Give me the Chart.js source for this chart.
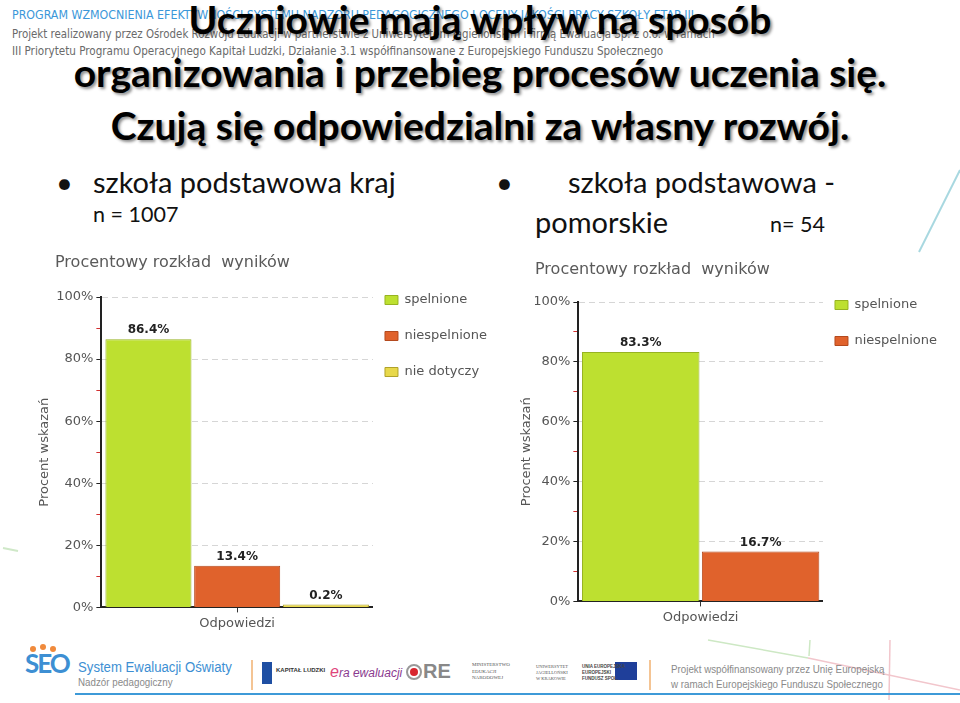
<!DOCTYPE html>
<html lang="pl">
<head>
<meta charset="UTF-8">
<title>Uczniowie mają wpływ na sposób organizowania procesów uczenia się</title>
<script src="https://cdn.jsdelivr.net/npm/chart.js"></script>
<style>
  html, body { margin: 0; padding: 0; }
  body { width: 960px; height: 703px; position: relative; overflow: hidden; background: #fff; font-family: Lato, 'Open Sans', sans-serif; }
  .abs { position: absolute; white-space: nowrap; }
  .hdr { font-family: 'Liberation Sans Narrow', 'DejaVu Sans Condensed', sans-serif; left: 12px; line-height: 1; }
  .hdr1 { top: 9px; font-size: 12.3px; color: #3b97d9; }
  .hdr2 { top: 29px; font-size: 11.4px; color: #6a6a6a; }
  .hdr3 { top: 46px; font-size: 11.6px; color: #6a6a6a; }
  .title { left: 0; top: -7px; width: 960px; text-align: center; font: bold 39px/53px Lato, sans-serif; color: #000;
           text-shadow: 2px 2px 3px rgba(0,0,0,0.45); }
  .big { font-size: 29px; line-height: 29px; color: #111; }
  .small { font-size: 21.5px; line-height: 21.5px; color: #111; }
  canvas { position: absolute; }
  .ft { transform-origin: left top; transform: scaleX(0.85); font-family: 'Liberation Sans', sans-serif; line-height: 1; }
  .ft-blue { color: #3d8fd3; }
  .ft-gray { color: #8a8a8a; }
</style>
</head>
<body>
  <svg class="abs" style="left:0;top:0" width="960" height="703">
    <line x1="919" y1="252" x2="960" y2="170" stroke="#a8d8e0" stroke-width="2"/>
    <line x1="3" y1="548" x2="18" y2="551" stroke="#cfe8c8" stroke-width="2"/>
    <line x1="708" y1="640" x2="808" y2="658" stroke="#cde8c4" stroke-width="1.5"/>
    <line x1="808" y1="658" x2="960" y2="690" stroke="#f2c6cc" stroke-width="1.5"/>
    <line x1="810" y1="640" x2="809" y2="656" stroke="#cde8c4" stroke-width="1.5"/>
    <line x1="890" y1="640" x2="889" y2="700" stroke="#f2c6cc" stroke-width="1.5"/>
    <line x1="75" y1="694" x2="960" y2="694" stroke="#3d9ad8" stroke-width="2"/>
    <line x1="252" y1="660" x2="252" y2="690" stroke="#f0b070" stroke-width="1.5"/>
    <line x1="650" y1="660" x2="650" y2="690" stroke="#f0b070" stroke-width="1.5"/>
    <circle cx="33" cy="649" r="3" fill="#f08a3c"/>
    <circle cx="43" cy="647" r="3" fill="#f08a3c"/>
    <circle cx="53" cy="649" r="3" fill="#f08a3c"/>
    <circle cx="414" cy="672" r="7" fill="none" stroke="#999" stroke-width="2"/>
    <circle cx="414" cy="672" r="4" fill="#d8262e"/>
    <rect x="262" y="662" width="10" height="22" fill="#1f4fa3"/>
    <rect x="615" y="662" width="22" height="18" fill="#1f3f9a"/>
  </svg>

  <div class="abs hdr hdr1">PROGRAM WZMOCNIENIA EFEKTYWNOŚCI SYSTEMU NADZORU PEDAGOGICZNEGO I OCENY JAKOŚCI PRACY SZKOŁY ETAP III</div>
  <div class="abs hdr hdr2">Projekt realizowany przez Ośrodek Rozwoju Edukacji w partnerstwie z Uniwersytetem Jagiellońskim i firmą Ewaluacja Sp. z o.o. w ramach</div>
  <div class="abs hdr hdr3">III Priorytetu Programu Operacyjnego Kapitał Ludzki, Działanie 3.1 współfinansowane z Europejskiego Funduszu Społecznego</div>

  <div class="abs title">Uczniowie mają wpływ na sposób<br>organizowania i przebieg procesów uczenia się.<br>Czują się odpowiedzialni za własny rozwój.</div>

  <div class="abs big" style="left:56px;top:167px">•</div>
  <div class="abs big" style="left:93px;top:167px">szkoła podstawowa kraj</div>
  <div class="abs small" style="left:93px;top:204px">n = 1007</div>
  <div class="abs big" style="left:496px;top:167px">•</div>
  <div class="abs big" style="left:568px;top:167px">szkoła podstawowa -</div>
  <div class="abs big" style="left:535px;top:207px">pomorskie</div>
  <div class="abs small" style="left:770px;top:214px">n= 54</div>

  <canvas id="chartKraj" width="473" height="388" style="left:35px;top:250px"></canvas>
  <canvas id="chartPom" width="443" height="374" style="left:515px;top:258px"></canvas>

  <div class="abs ft-blue" style="left:25px;top:650px;font:bold 26px/1 Lato,sans-serif;letter-spacing:-2px">SEO</div>
  <div class="abs ft ft-blue" style="left:78px;top:659px;font-size:15.5px">System Ewaluacji Oświaty</div>
  <div class="abs ft ft-gray" style="left:78px;top:677px;font-size:11.5px">Nadzór pedagogiczny</div>
  <div class="abs" style="left:276px;top:667px;font:bold 6px/1 'Liberation Sans',sans-serif;color:#333">KAPITAŁ LUDZKI</div>
  <div class="abs" style="left:330px;top:664px;font:italic 12px/1 'Liberation Sans',sans-serif;color:#8a3a8f"><span style="color:#e0457b;font-size:16px">e</span>ra ewaluacji</div>
  <div class="abs" style="left:423px;top:661px;font:bold 20px/1 'Liberation Sans',sans-serif;color:#888">RE</div>
  <div class="abs" style="left:472px;top:662px;font:5px/1.3 'Liberation Serif',serif;color:#555">MINISTERSTWO<br>EDUKACJI<br>NARODOWEJ</div>
  <div class="abs" style="left:536px;top:664px;font:4.5px/1.3 'Liberation Serif',serif;color:#555">UNIWERSYTET<br>JAGIELLOŃSKI<br>W KRAKOWIE</div>
  <div class="abs" style="left:582px;top:664px;font:bold 4.5px/1.3 'Liberation Sans',sans-serif;color:#444">UNIA EUROPEJSKA<br>EUROPEJSKI<br>FUNDUSZ SPOŁ.</div>
  <div class="abs ft ft-gray" style="left:671px;top:664px;font-size:11.5px">Projekt współfinansowany przez Unię Europejską</div>
  <div class="abs ft ft-gray" style="left:671px;top:679px;font-size:11.5px">w ramach Europejskiego Funduszu Społecznego</div>

<script>
  // data
  const categories = ['Odpowiedzi'];
  const seriesLabels = ['spelnione', 'niespelnione', 'nie dotyczy'];
  const krajValues = [86.4, 13.4, 0.2];
  const pomorskieValues = [83.3, 16.7];
  const yMin = 0, yMax = 100, yStep = 10, yLabelStep = 20;

  const fills = ['#bde030', '#e0622c', '#e8d84a'];
  const borders = ['#97b322', '#b44a1e', '#b0a22a'];
  const font = 'DejaVu Sans';

  // value text above each bar
  const valueLabels = {
    id: 'valueLabels',
    afterDatasetsDraw(chart) {
      const ctx = chart.ctx;
      ctx.save();
      ctx.font = 'bold 12px "' + font + '"';
      ctx.fillStyle = '#222';
      ctx.textAlign = 'center';
      ctx.textBaseline = 'bottom';
      chart.data.datasets.forEach((ds, i) => {
        chart.getDatasetMeta(i).data.forEach((bar, j) => {
          ctx.fillText(ds.data[j].toFixed(1) + '%', bar.x, bar.y - 3);
        });
      });
      ctx.restore();
    }
  };

  // legend sits closer to the plot than its label padding allows
  const legendNudge = {
    id: 'legendNudge',
    afterLayout(chart) {
      const lg = chart.legend;
      if (!lg) return;
      lg.left -= 11;
      lg.right -= 11;
    }
  };

  function makeChart(id, values, lay) {
    const datasets = values.map((v, i) => ({
      label: seriesLabels[i],
      data: [v],
      backgroundColor: fills[i],
      borderColor: borders[i],
      borderWidth: 1,
      minBarLength: 3,
      categoryPercentage: 0.98,
      barPercentage: lay.barPct
    }));
    return new Chart(document.getElementById(id), {
      type: 'bar',
      data: { labels: categories, datasets },
      plugins: [valueLabels, legendNudge],
      options: {
        responsive: false,
        animation: false,
        layout: { padding: { left: 20, right: 0, top: 0, bottom: lay.padBottom } },
        plugins: {
          tooltip: { enabled: false },
          title: {
            display: true,
            text: 'Procentowy rozkład  wyników',
            align: 'start',
            color: '#5a5a5a',
            font: { family: font, size: 16, weight: 'normal' },
            padding: { top: lay.titleTop, bottom: lay.titleBottom }
          },
          legend: {
            position: 'right',
            align: 'start',
            fullSize: true,
            maxWidth: 220,
            title: { display: true, text: ' ', font: { size: 10 }, padding: { top: lay.legendGap, bottom: 0 } },
            labels: {
              boxWidth: 13,
              boxHeight: 9,
              padding: 23,
              color: '#555',
              font: { family: font, size: 13 }
            }
          }
        },
        scales: {
          x: {
            offset: true,
            grid: { offset: false, drawOnChartArea: false, color: '#333', tickColor: '#333', tickLength: 5 },
            border: { color: '#222', width: 2 },
            ticks: { color: '#555', padding: 3, font: { family: font, size: 13 } }
          },
          y: {
            min: yMin,
            max: yMax,
            title: {
              display: true,
              text: 'Procent wskazań',
              color: '#555',
              font: { family: font, size: 13 },
              padding: { top: lay.yTitleTop, bottom: lay.yTitleBottom }
            },
            grid: {
              color: c => (c.tick.value % yLabelStep === 0 && c.tick.value !== 0) ? '#d6d6d6' : 'transparent',
              tickColor: c => c.tick.value % yLabelStep === 0 ? '#222' : '#d23030',
              tickLength: 5
            },
            border: { color: '#222', width: 2, dash: [6, 4] },
            ticks: {
              stepSize: yStep,
              autoSkip: false,
              padding: 3,
              color: '#555',
              font: { family: font, size: 13 },
              callback: v => v % yLabelStep === 0 ? v + '%' : ''
            }
          }
        }
      }
    });
  }

  makeChart('chartKraj', krajValues, {
    barPct: 0.97, padBottom: 4, titleTop: 3.4, titleBottom: 24.4, legendGap: 8.5, yTitleTop: -17.8, yTitleBottom: 0.4
  });
  makeChart('chartPom', pomorskieValues, {
    barPct: 0.98, padBottom: 4, titleTop: 2.4, titleBottom: 22.4, legendGap: 5.5, yTitleTop: -15.8, yTitleBottom: -4.6
  });
</script>
</body>
</html>
